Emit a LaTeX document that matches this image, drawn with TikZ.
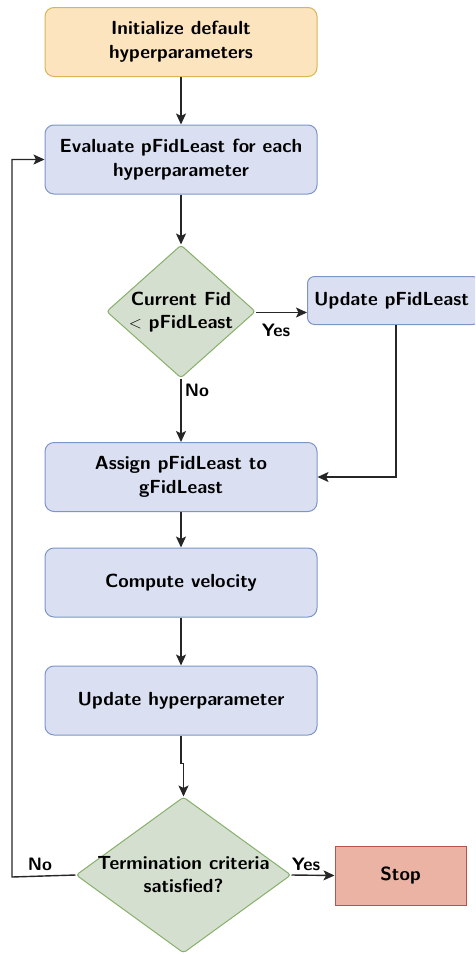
\documentclass[tikz,border=0pt]{standalone}
\usetikzlibrary{shapes.geometric,arrows.meta}
\definecolor{orfill}{HTML}{FCE4BF}
\definecolor{ordraw}{HTML}{D6B656}
\definecolor{blfill}{HTML}{DAE0F2}
\definecolor{bldraw}{HTML}{7C96C8}
\definecolor{grfill}{HTML}{D5DFCF}
\definecolor{grdraw}{HTML}{86B06A}
\definecolor{rdfill}{HTML}{EAB3A3}
\definecolor{rddraw}{HTML}{B85450}
\tikzset{
  txt/.style={font=\sffamily\bfseries\fontsize{19}{23.5}\selectfont, align=center, text=black},
  boxstyle/.style={txt, draw=bldraw, fill=blfill, line width=1pt, rounded corners=9pt, minimum width=272pt, minimum height=69pt, inner sep=0pt},
  dia/.style={shape=diamond, draw=grdraw, fill=grfill, line width=1pt, rounded corners=3pt, inner sep=0pt},
  conn/.style={draw=black!85, line width=1.4pt, -{Stealth[length=11pt,width=10pt,inset=2.5pt]}},
  lbl/.style={font=\sffamily\bfseries\fontsize{18}{20}\selectfont, inner sep=0pt}
}
\begin{document}
\begin{tikzpicture}[x=1pt,y=-1pt]
\useasboundingbox (0,0) rectangle (475,954);
\clip (0,0) rectangle (475,954);
\node[boxstyle, draw=ordraw, fill=orfill] (init) at (181,42) {\raisebox{-2pt}{\begin{tabular}{@{}c@{}}Initialize default\\hyperparameters\end{tabular}}};
\node[boxstyle] (eval) at (181,159.5) {Evaluate pFidLeast for each\\hyperparameter};
\node[dia, minimum width=149pt, minimum height=133pt] (d1) at (181,311.5) {};
\node[txt] (d1t) at (181,312) {Current Fid\\$<$ pFidLeast};
\node[boxstyle, minimum width=172pt, minimum height=48pt, rounded corners=7pt, anchor=west] (upd) at (307,300.5) {\hspace*{-4pt}Update pFidLeast};
\node[boxstyle] (assign) at (181,477) {Assign pFidLeast to\\gFidLeast};
\node[boxstyle] (comp) at (181,582.5) {Compute velocity};
\node[boxstyle] (uhyp) at (181,700.5) {Update hyperparameter};
\node[dia, minimum width=215pt, minimum height=156pt] (d2) at (183.5,875) {};
\node[txt] (d2t) at (183.5,874.5) {Termination criteria\\satisfied?};
\node[txt, draw=rddraw, fill=rdfill, line width=1pt, minimum width=131pt, minimum height=59pt, inner sep=0pt] (stop) at (400.5,875.5) {Stop};

\coordinate (loopx) at (12,877);
\coordinate (updcorner) at (396,477);

\draw[conn] (init) -- (eval);
\draw[conn] (eval) -- (d1);
\draw[conn] (d1.east |- 0,312.5) -- (upd.west |- 0,312.5);
\draw[conn] (d1) -- (assign);
\draw[conn] (upd.south -| updcorner) -- (updcorner) -- (assign.east |- updcorner);
\draw[conn] (assign) -- (comp);
\draw[conn] (comp) -- (uhyp);
\draw[conn] (uhyp.south) -- ++(0,28) -| (d2.north);
\draw[conn] (d2.east) -- (stop.west);
\draw[conn] (d2.west) -- (loopx) |- (eval.west);

\node[lbl] (yes1) at (276,330) {Yes};
\node[lbl] (no1) at (197,390) {No};
\node[lbl] (yes2) at (306,864) {Yes};
\node[lbl] (no2) at (40,864) {No};
\end{tikzpicture}
\end{document}
